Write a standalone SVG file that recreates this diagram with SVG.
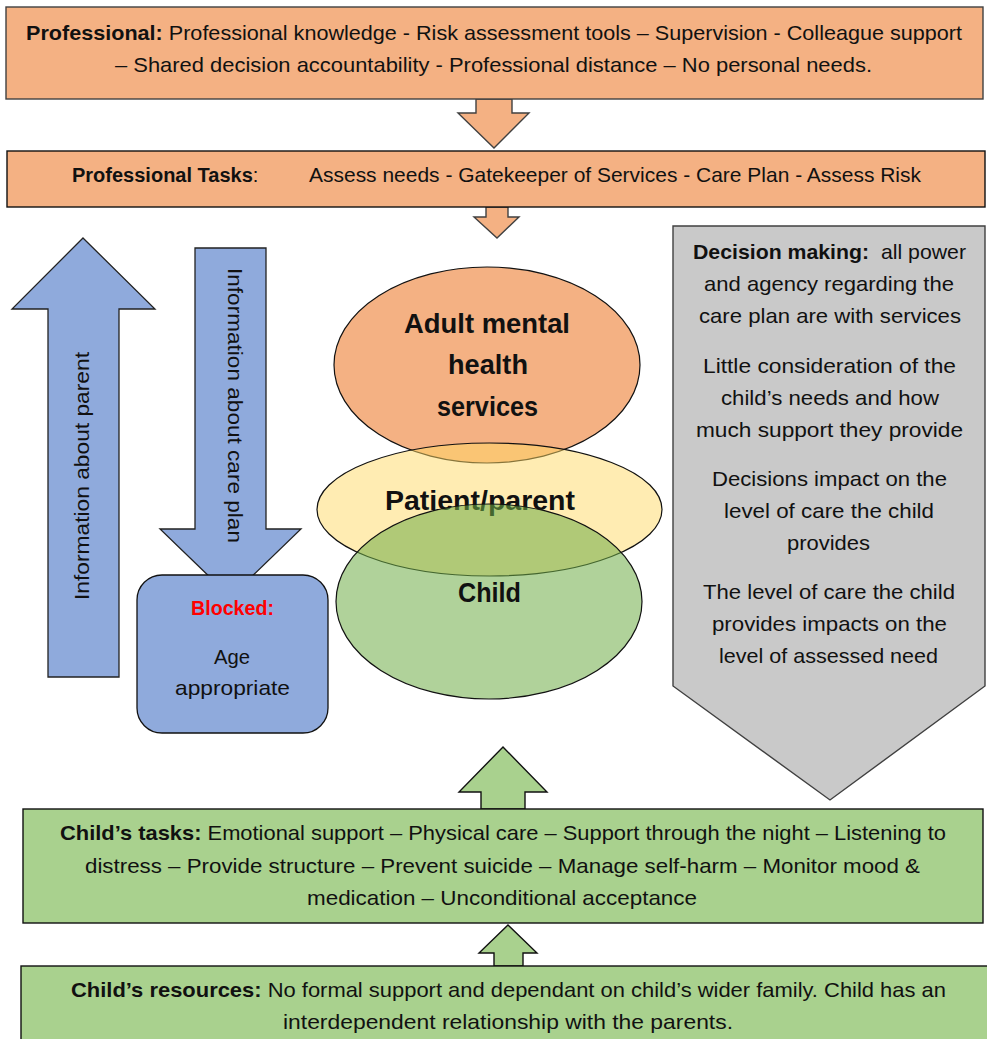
<svg xmlns="http://www.w3.org/2000/svg" width="987" height="1039" viewBox="0 0 987 1039">
<style>
text{font-family:"Liberation Sans",Arial,sans-serif;fill:#111;font-size:21px}
.b{font-weight:bold}
.c{text-anchor:middle}
.big{font-size:27px;font-weight:bold}
.or{fill:#F4B183;stroke:#404040;stroke-width:1.4}
.gr{fill:#A9D18E;stroke:#111;stroke-width:1.4}
.bl{fill:#8FAADC;stroke:#222;stroke-width:1.3}
</style>
<rect width="987" height="1039" fill="#fff"/>
<g id="connectors">
<polygon class="or" points="476,99 512,99 512,113 529,113 494,148 458,113 476,113"/>
<polygon class="or" points="486,207 508,207 508,217 519,217 497,238 474,217 486,217"/>
<polygon class="gr" points="503,747 547,792 525,792 525,809 481,809 481,792 459,792"/>
<polygon class="gr" points="508,925 537,953 523,953 523,966 494,966 494,953 479,953"/>
</g>
<g id="professional">
<rect class="or" x="6" y="7" width="977" height="92"/>
<text x="26" y="40" textLength="936" lengthAdjust="spacingAndGlyphs"><tspan class="b">Professional:</tspan> Professional knowledge - Risk assessment tools – Supervision - Colleague support</text>
<text x="115" y="72" textLength="757" lengthAdjust="spacingAndGlyphs">– Shared decision accountability - Professional distance – No personal needs.</text>
</g>
<g id="professional-tasks">
<rect class="or" x="7" y="151" width="978" height="56" style="stroke:#111"/>
<text x="72" y="182" style="font-size:20px"><tspan class="b">Professional Tasks</tspan>:</text>
<text x="309" y="182" textLength="612" lengthAdjust="spacingAndGlyphs">Assess needs - Gatekeeper of Services - Care Plan - Assess Risk</text>
</g>
<g id="info-parent">
<polygon class="bl" points="83,238 155,309 119,309 119,677 48,677 48,309 12,309"/>
<text class="c" transform="translate(89,476) rotate(-90)" textLength="248" lengthAdjust="spacingAndGlyphs">Information about parent</text>
</g>
<g id="info-careplan">
<polygon class="bl" points="195,248 266,248 266,529 301,529 230.5,597 160,529 195,529"/>
<text class="c" transform="translate(228,405.5) rotate(90)" textLength="275" lengthAdjust="spacingAndGlyphs">Information about care plan</text>
</g>
<g id="blocked">
<rect class="bl" x="137" y="575" width="191" height="158" rx="25" style="stroke:#111"/>
<text class="c b" x="232.5" y="615" style="fill:#FF0000" textLength="83" lengthAdjust="spacingAndGlyphs">Blocked:</text>
<text class="c" x="232" y="664" textLength="36" lengthAdjust="spacingAndGlyphs">Age</text>
<text class="c" x="232.5" y="695" textLength="115" lengthAdjust="spacingAndGlyphs">appropriate</text>
</g>
<g id="services">
<ellipse cx="487" cy="365" rx="153" ry="98" fill="#F4B183" stroke="#111" stroke-width="1.2"/>
<text class="c big" x="487" y="333" textLength="166" lengthAdjust="spacingAndGlyphs">Adult mental</text>
<text class="c big" x="488" y="374" textLength="80" lengthAdjust="spacingAndGlyphs">health</text>
<text class="c big" x="487.5" y="416" textLength="101" lengthAdjust="spacingAndGlyphs">services</text>
</g>
<g id="parent">
<ellipse cx="489.5" cy="509.5" rx="172.5" ry="66.5" fill="#FFD966" fill-opacity="0.5" stroke="#111" stroke-width="1.2"/>
<text class="c big" x="480" y="510" textLength="190" lengthAdjust="spacingAndGlyphs">Patient/parent</text>
</g>
<g id="child">
<ellipse cx="489" cy="601.5" rx="153" ry="97.5" fill="#70AD47" fill-opacity="0.55" stroke="#111" stroke-width="1.2"/>
<text class="c big" x="489.5" y="602" textLength="63" lengthAdjust="spacingAndGlyphs">Child</text>
</g>
<g id="decision-making">
<polygon points="673,226 985,226 985,686 830,800 673,686" fill="#C9C9C9" stroke="#404040" stroke-width="1.4"/>
<text class="c" x="829.5" y="259" textLength="273" lengthAdjust="spacingAndGlyphs" xml:space="preserve"><tspan class="b">Decision making:</tspan>  all power</text>
<text class="c" x="829" y="291" textLength="250" lengthAdjust="spacingAndGlyphs">and agency regarding the</text>
<text class="c" x="830" y="323" textLength="262" lengthAdjust="spacingAndGlyphs">care plan are with services</text>
<text class="c" x="829.5" y="373" textLength="253" lengthAdjust="spacingAndGlyphs">Little consideration of the</text>
<text class="c" x="830" y="405" textLength="218" lengthAdjust="spacingAndGlyphs">child’s needs and how</text>
<text class="c" x="829.5" y="437" textLength="267" lengthAdjust="spacingAndGlyphs">much support they provide</text>
<text class="c" x="829.5" y="486" textLength="235" lengthAdjust="spacingAndGlyphs">Decisions impact on the</text>
<text class="c" x="829" y="518" textLength="210" lengthAdjust="spacingAndGlyphs">level of care the child</text>
<text class="c" x="828.5" y="550" textLength="83" lengthAdjust="spacingAndGlyphs">provides</text>
<text class="c" x="829" y="599" textLength="252" lengthAdjust="spacingAndGlyphs">The level of care the child</text>
<text class="c" x="829.5" y="631" textLength="235" lengthAdjust="spacingAndGlyphs">provides impacts on the</text>
<text class="c" x="828.5" y="663" textLength="219" lengthAdjust="spacingAndGlyphs">level of assessed need</text>
</g>
<g id="childs-tasks">
<rect class="gr" x="23" y="809" width="960" height="114"/>
<text x="60" y="840" textLength="886" lengthAdjust="spacingAndGlyphs"><tspan class="b">Child’s tasks:</tspan> Emotional support – Physical care – Support through the night – Listening to</text>
<text x="85" y="873" textLength="835" lengthAdjust="spacingAndGlyphs">distress – Provide structure – Prevent suicide – Manage self-harm – Monitor mood &amp;</text>
<text x="307" y="905" textLength="390" lengthAdjust="spacingAndGlyphs">medication – Unconditional acceptance</text>
</g>
<g id="childs-resources">
<rect class="gr" x="21" y="966" width="980" height="90"/>
<text x="71" y="997" textLength="875" lengthAdjust="spacingAndGlyphs"><tspan class="b">Child’s resources:</tspan> No formal support and dependant on child’s wider family. Child has an</text>
<text x="283" y="1029" textLength="450" lengthAdjust="spacingAndGlyphs">interdependent relationship with the parents.</text>
</g>
</svg>
